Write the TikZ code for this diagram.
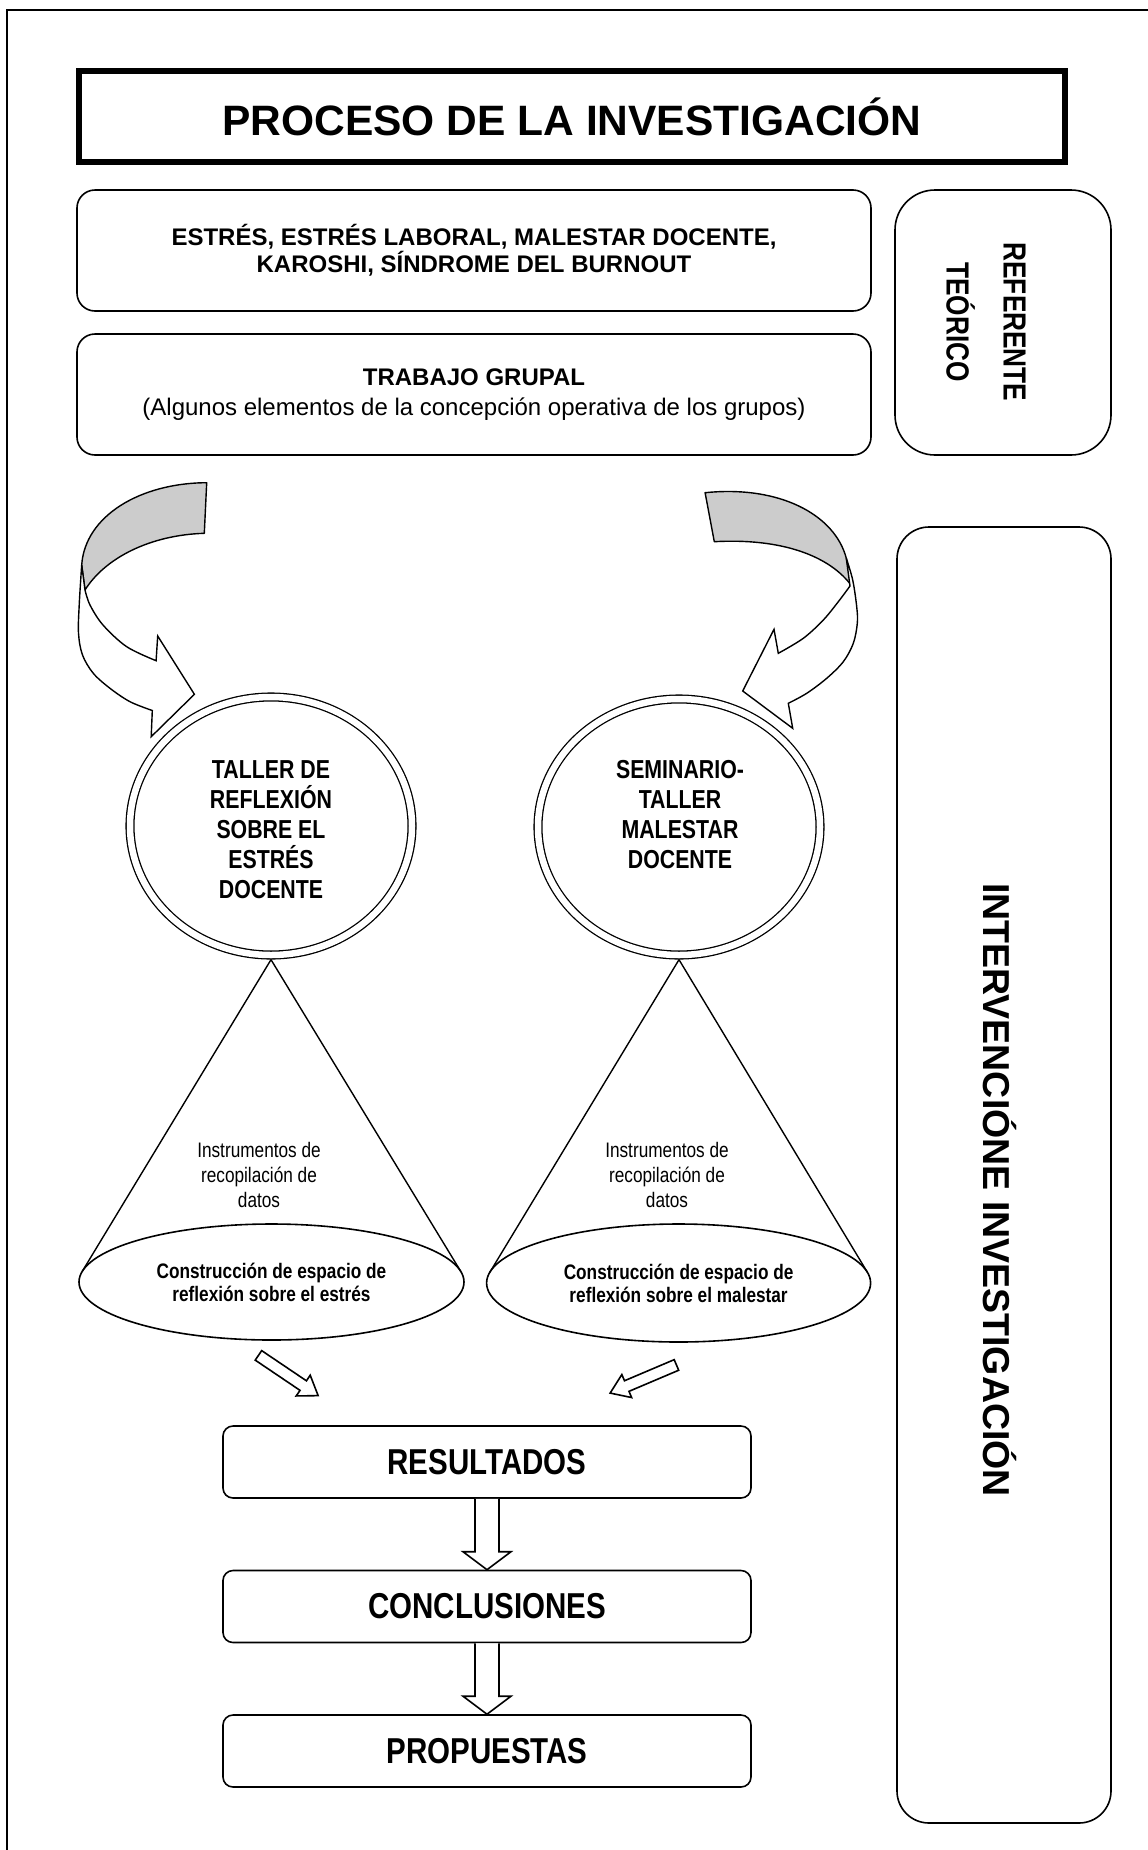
\documentclass[tikz,border=0pt]{standalone}
\usepackage{fontspec}
\setmainfont{Liberation Sans}
\newfontfamily\narrowfont{Liberation Sans}[FakeStretch=0.82]
\usetikzlibrary{calc,shapes.geometric}
\definecolor{ribbon}{RGB}{204,204,204}

\begin{document}
\begin{tikzpicture}[
  x=1pt,y=-1pt,
  heading/.style={draw,line width=6pt,minimum width=986pt,minimum height=91pt,inner sep=0pt,
                  font=\fontsize{42.5}{50}\selectfont\bfseries},
  panel/.style={draw,line width=1.6pt,rounded corners=18pt,minimum width=794pt,
                minimum height=121pt,align=center,inner sep=0pt},
  sidebox/.style={draw,line width=1.6pt,rounded corners=40pt,inner sep=0pt},
  sidelabel/.style={rotate=-90,align=center,inner sep=0pt},
  workshop/.style={ellipse,draw,line width=1.3pt,double,double distance=6.5pt,
                   minimum width=282pt,minimum height=258pt,inner sep=0pt},
  workshoptext/.style={align=center,inner sep=0pt,font=\narrowfont\fontsize{26}{30}\selectfont\bfseries},
  space/.style={ellipse,draw,line width=1.6pt,minimum width=385pt,minimum height=116pt,inner sep=0pt,
                align=center,font=\narrowfont\fontsize{21}{23}\selectfont\bfseries},
  tools/.style={align=center,inner sep=0pt,font=\narrowfont\fontsize{21}{25}\selectfont},
  stage/.style={draw,line width=1.6pt,rounded corners=10pt,minimum width=528pt,minimum height=72pt,
                inner sep=0pt,font=\narrowfont\fontsize{36}{40}\selectfont\bfseries},
  hollow/.style={draw,line width=1.6pt,fill=white,line join=miter},
  ribbonback/.style={draw,line width=1.4pt,fill=ribbon,line join=round},
  ribbonfront/.style={draw,line width=1.4pt,fill=white,line join=miter},
  coneline/.style={line width=1.4pt}
]
\useasboundingbox (0,0) rectangle (1148,1850);
% page frame (only left and top edges are in view)
\draw[line width=1.6pt] (7,1850) -- (7,10) -- (1148,10);

% title and theoretical framework
\node[heading] (title) at (572,116.5) {PROCESO DE LA INVESTIGACIÓN};
\node[panel,font=\fontsize{24}{27}\selectfont\bfseries] (concepts) at (474,250.5)
  {ESTRÉS, ESTRÉS LABORAL, MALESTAR DOCENTE,\\KAROSHI, SÍNDROME DEL BURNOUT};
\node[panel,font=\fontsize{24}{30}\selectfont] (group) at (474,394.5)
  {\textbf{TRABAJO GRUPAL}\\(Algunos elementos de la concepción operativa de los grupos)};
\node[sidebox,minimum width=216pt,minimum height=265pt] (theory) at (1003,322.5) {};
\node[sidelabel,font=\narrowfont\fontsize{32}{57}\selectfont\bfseries] (theorytxt) at (986,322)
  {REFERENTE\\TEÓRICO};
\node[sidebox,rounded corners=32pt,minimum width=214pt,minimum height=1296pt] (action) at (1004,1175) {};
\node[sidelabel,font=\fontsize{37.5}{44}\selectfont\bfseries] (actiontxt) at (1000,1190)
  {INTERVENCIÓNE INVESTIGACIÓN};

% curved arrows (grey back of the ribbon, white front with head)
\filldraw[ribbonback] (206.7,482.7) .. controls (140,483) and (85,516) .. (81.7,565) -- (85,590)
  .. controls (105,558) and (150,535) .. (204.3,533.3) -- cycle;
\filldraw[ribbonfront] plot[smooth,tension=0.55] coordinates {(81.7,565) (79.3,603.3) (78.5,633)
  (82.5,655) (93.3,673.3) (110,688.3) (130,701.7) (152.3,710.5)}
  -- (151.2,736.7) -- (194.4,694.3) -- (157.7,636) -- (156.1,660.7)
  -- plot[smooth,tension=0.55] coordinates {(156.1,660.7) (126.7,646.7) (103,625) (90,605) (85,590)} -- cycle;
\filldraw[ribbonback] (705.1,492.7) .. controls (780,485) and (835,515) .. (846.3,558.3) -- (852.7,587.3)
  .. controls (830,555) and (780,538) .. (714.3,541.7) -- cycle;
\filldraw[ribbonfront] plot[smooth,tension=0.55] coordinates {(846.3,558.3) (852.7,580) (856.7,606.7)
  (857.3,623.3) (853.3,643.3) (843.3,661.7) (826.7,678.3) (806.7,693.3) (788.3,703.3)}
  -- (792.7,728.3) -- (742.7,691) -- (774,629.3) -- (778.3,653.3)
  -- plot[smooth,tension=0.55] coordinates {(778.3,653.3) (803.3,638.3) (823.3,620) (838.3,601.7) (850,586)} -- cycle;

% workshops
\node[workshop] (tallerA) at (271,826) {};
\node[workshop,minimum height=256pt] (tallerB) at (679,827) {};
\node[workshoptext] (tallerAtxt) at (271,830) {TALLER DE\\REFLEXIÓN\\SOBRE EL\\ESTRÉS\\DOCENTE};
\node[workshoptext] (tallerBtxt) at (680,815) {SEMINARIO-\\TALLER\\MALESTAR\\DOCENTE};

% cones down to the reflection spaces
\node[space] (spaceA) at (271.5,1282) {Construcción de espacio de\\reflexión sobre el estrés};
\node[space,minimum width=384pt,minimum height=118pt] (spaceB) at (678.6,1283)
  {Construcción de espacio de\\reflexión sobre el malestar};
\draw[coneline] ($(spaceA.center)+(-189.4,-10.4)$) -- ($(tallerA.south)+(0,4)$)
  -- ($(spaceA.center)+(189.4,-10.4)$);
\draw[coneline] ($(spaceB.center)+(-188.8,-10.7)$) -- ($(tallerB.south)+(0,4)$)
  -- ($(spaceB.center)+(188.8,-10.7)$);
\node[tools] (toolsA) at (259,1175) {Instrumentos de\\recopilación de\\datos};
\node[tools] (toolsB) at (667,1175) {Instrumentos de\\recopilación de\\datos};

% small hollow arrows
\foreach \cx/\cy/\ang in {288.3/1375.5/-34, 643.3/1379/203}{
  \draw[hollow,shift={(\cx,\cy)},rotate=\ang] (-36,-5.75) -- (18,-5.75) -- (18,-12.5) -- (36,0)
    -- (18,12.5) -- (18,5.75) -- (-36,5.75) -- cycle;
}

% results chain
\node[stage] (results) at (487,1462) {RESULTADOS};
\node[stage] (conclusions) at (487,1606.5) {CONCLUSIONES};
\node[stage] (proposals) at (487,1751) {PROPUESTAS};
\draw[hollow] ($(results.south)+(-12,0)$) -- ($(conclusions.north)+(-12,-18)$)
  -- ($(conclusions.north)+(-24,-18)$) -- (conclusions.north) -- ($(conclusions.north)+(24,-18)$)
  -- ($(conclusions.north)+(12,-18)$) -- ($(results.south)+(12,0)$);
\draw[hollow] ($(conclusions.south)+(-12,0)$) -- ($(proposals.north)+(-12,-18)$)
  -- ($(proposals.north)+(-24,-18)$) -- (proposals.north) -- ($(proposals.north)+(24,-18)$)
  -- ($(proposals.north)+(12,-18)$) -- ($(conclusions.south)+(12,0)$);
\end{tikzpicture}
\end{document}
